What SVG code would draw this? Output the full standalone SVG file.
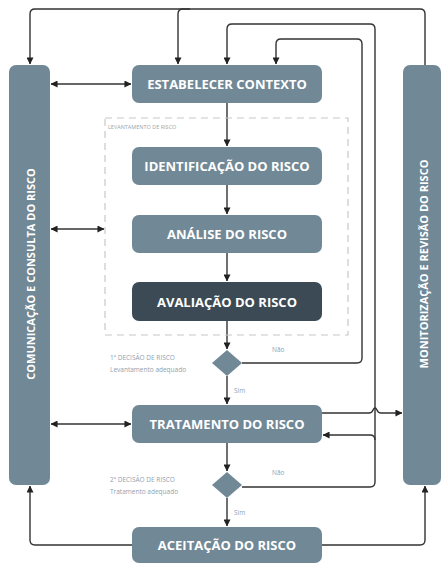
<svg xmlns="http://www.w3.org/2000/svg" width="441" height="564" viewBox="0 0 441 564">
<style>
.box{fill:#718896;}
.dark{fill:#3b4a54;}
.t{font-family:"Open Sans","Liberation Sans",sans-serif;font-weight:bold;font-size:13px;fill:#ffffff;text-anchor:middle;dominant-baseline:central;}
.vt{font-family:"Open Sans","Liberation Sans",sans-serif;font-weight:bold;font-size:11px;fill:#ffffff;text-anchor:middle;dominant-baseline:central;}
.s{font-family:"Open Sans","Liberation Sans",sans-serif;font-size:6.5px;fill:#8fa2b0;}
.l{fill:none;stroke:#333333;stroke-width:1.4;}
</style>
<defs>
<marker id="a" viewBox="0 0 8 8" refX="7.5" refY="4" markerWidth="7" markerHeight="7" markerUnits="userSpaceOnUse" orient="auto-start-reverse">
<path d="M0,0 L8,4 L0,8 z" fill="#222"/>
</marker>
</defs>
<rect width="441" height="564" fill="#ffffff"/>
<g id="connectors">
<path class="l" d="M425,65 V14 Q425,9 420,9 H35 Q30,9 30,14 V64" marker-end="url(#a)"/>
<path class="l" d="M190,9 H183 Q178,9 178,14 V64" marker-end="url(#a)"/>
<path class="l" d="M242,363 H357 Q362,363 362,358 V44 Q362,39 357,39 H281 Q276,39 276,44 V64" marker-end="url(#a)"/>
<path class="l" d="M242,487 H370 Q375,487 375,482 V29 Q375,24 370,24 H232 Q227,24 227,29 V64" marker-end="url(#a)"/>
<path class="l" d="M375,440 Q375,435 370,435 H323" marker-end="url(#a)"/>
<path class="l" d="M322,413 H369 Q372,413 373,410 Q375,406 377,410 Q378,413 381,413 H402" marker-end="url(#a)"/>
<path class="l" d="M51,84 H131" marker-start="url(#a)" marker-end="url(#a)"/>
<path class="l" d="M51,229 H104" marker-start="url(#a)" marker-end="url(#a)"/>
<path class="l" d="M51,424 H131" marker-start="url(#a)" marker-end="url(#a)"/>
<path class="l" d="M227,103 V146" marker-end="url(#a)"/>
<path class="l" d="M227,185 V214" marker-end="url(#a)"/>
<path class="l" d="M227,253 V281" marker-end="url(#a)"/>
<path class="l" d="M227,321 V349" marker-end="url(#a)"/>
<path class="l" d="M227,376 V404" marker-end="url(#a)"/>
<path class="l" d="M227,443 V471" marker-end="url(#a)"/>
<path class="l" d="M227,498 V526" marker-end="url(#a)"/>
<path class="l" d="M132,545 H35 Q30,545 30,540 V486" marker-end="url(#a)"/>
<path class="l" d="M322,545 H420 Q425,545 425,540 V486" marker-end="url(#a)"/>
</g>
<g id="levantamento">
<rect x="105" y="118" width="243" height="217" fill="none" stroke="#c8c8c8" stroke-width="1.2" stroke-dasharray="7,5"/>
<text class="s" x="108" y="129" style="fill:#9aa6ae;font-size:5.5px">LEVANTAMENTO DE RISCO</text>
</g>
<g id="comunicacao">
<rect class="box" x="9" y="65" width="41" height="420" rx="7"/>
<text class="vt" transform="translate(30,274) rotate(-90)">COMUNICAÇÃO E CONSULTA DO RISCO</text>
</g>
<g id="monitorizacao">
<rect class="box" x="403" y="65" width="38" height="420" rx="7"/>
<text class="vt" transform="translate(423,264) rotate(-90)">MONITORIZAÇÃO E REVISÃO DO RISCO</text>
</g>
<g id="contexto">
<rect class="box" x="132" y="65" width="190" height="38" rx="7"/>
<text class="t" x="227" y="84">ESTABELECER CONTEXTO</text>
</g>
<g id="identificacao">
<rect class="box" x="132" y="147" width="190" height="38" rx="7"/>
<text class="t" x="227" y="166">IDENTIFICAÇÃO DO RISCO</text>
</g>
<g id="analise">
<rect class="box" x="132" y="215" width="190" height="38" rx="7"/>
<text class="t" x="227" y="234">ANÁLISE DO RISCO</text>
</g>
<g id="avaliacao">
<rect class="dark" x="132" y="282" width="190" height="39" rx="7"/>
<text class="t" x="227" y="301.5">AVALIAÇÃO DO RISCO</text>
</g>
<g id="decisao1">
<polygon class="box" points="227,350 242,363 227,376 212,363"/>
<text class="s" x="110" y="360">1ª DECISÃO DE RISCO</text>
<text class="s" x="110" y="372">Levantamento adequado</text>
<text class="s" x="272" y="352">Não</text>
<text class="s" x="234" y="393">Sim</text>
</g>
<g id="tratamento">
<rect class="box" x="132" y="405" width="190" height="38" rx="7"/>
<text class="t" x="227" y="424">TRATAMENTO DO RISCO</text>
</g>
<g id="decisao2">
<polygon class="box" points="227,472 242,485 227,498 212,485"/>
<text class="s" x="110" y="482">2ª DECISÃO DE RISCO</text>
<text class="s" x="110" y="494">Tratamento adequado</text>
<text class="s" x="272" y="475">Não</text>
<text class="s" x="234" y="515">Sim</text>
</g>
<g id="aceitacao">
<rect class="box" x="132" y="527" width="190" height="36" rx="7"/>
<text class="t" x="227" y="545">ACEITAÇÃO DO RISCO</text>
</g>
</svg>
